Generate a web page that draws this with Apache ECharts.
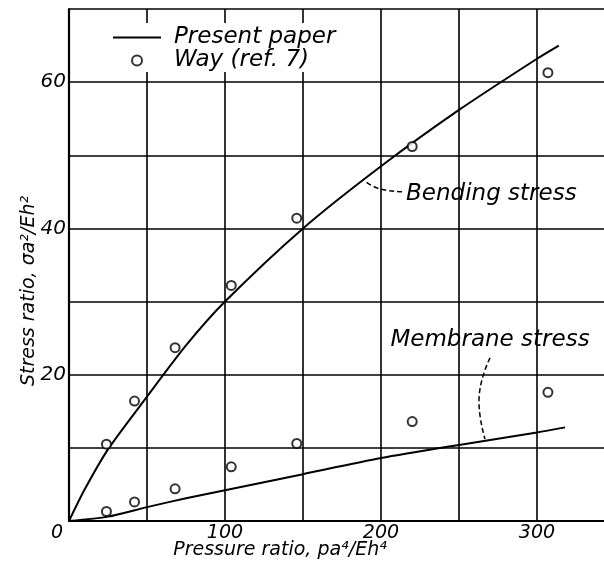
<!DOCTYPE html>
<html lang="en">
<head>
<meta charset="UTF-8">
<title>Stress ratio vs pressure ratio</title>
<script src="https://cdn.jsdelivr.net/npm/echarts@6/dist/echarts.min.js"></script>
<style>
html,body{margin:0;padding:0;background:#fff;}
#chartBox{width:604px;height:566px;}
</style>
</head>
<body>
<div id="chartBox"></div>
<script>
// test points, Way (ref. 7)
const pressure = [24, 42, 68, 104, 146, 220, 307];
const wayBending = [10.5, 16.4, 23.7, 32.2, 41.4, 51.2, 61.3];
const wayMembrane = [1.3, 2.6, 4.4, 7.4, 10.6, 13.6, 17.6];

// present paper curves
const bendingX = [0, 10, 25, 50, 75, 100, 150, 200, 250, 300, 314];
const bendingY = [0, 4.3, 9.8, 17, 24, 30, 40, 48.5, 56.2, 63.2, 65];
const membraneX = [0, 25, 50, 75, 100, 150, 200, 250, 300, 318];
const membraneY = [0, 0.6, 1.9, 3.1, 4.2, 6.4, 8.6, 10.4, 12.1, 12.8];

// dashed leaders for the curve labels
const bendLeaderX = [213.5, 198, 189];
const bendLeaderY = [45.0, 45.5, 46.6];
const membLeaderX = [269.9, 262.8, 266.7];
const membLeaderY = [22.3, 16.4, 11.2];

const FONT = '"DejaVu Sans", sans-serif';

function pairs(xs, ys) {
    return xs.map((x, i) => [x, ys[i]]);
}

function leader(xs, ys, text, pos, dist, off) {
    let data = pairs(xs, ys);
    data[0] = {
        value: data[0],
        label: {
            show: true, formatter: text, position: pos, distance: dist, offset: off,
            fontFamily: FONT, fontStyle: 'italic', fontSize: 23, color: '#000'
        }
    };
    return {
        type: 'line',
        smooth: true,
        symbol: 'circle',
        symbolSize: 0,
        showSymbol: true,
        silent: true,
        z: 3,
        itemStyle: {color: 'rgba(0,0,0,0)'},
        lineStyle: {color: '#000', width: 1.5, type: [5, 3]},
        data: data
    };
}

let chartObj = echarts.init(document.getElementById('chartBox'));

let curveStyle = {color: '#000', width: 2};
let dotStyle = {color: '#fff', borderColor: '#000', borderWidth: 2};

let option = {
    animation: false,
    backgroundColor: '#fff',
    // the frame runs past the right edge of the picture (x = 350)
    grid: {left: 69, top: 9, bottom: 45, width: 546, outerBoundsMode: 'none'},
    legend: {
        left: 100,
        top: 23,
        orient: 'vertical',
        backgroundColor: '#fff',
        padding: [3, 12, 0, 12],
        itemWidth: 48,
        itemHeight: 10,
        itemGap: 0,
        textStyle: {
            fontFamily: FONT, fontStyle: 'italic', fontSize: 23,
            color: '#000', lineHeight: 23, padding: [0, 0, 0, 8]
        },
        data: [
            {name: 'Present paper', itemStyle: {color: 'rgba(0,0,0,0)', borderWidth: 0}},
            {name: 'Way (ref. 7)'}
        ]
    },
    xAxis: {
        type: 'value',
        min: 0,
        max: 350,
        interval: 50,
        name: 'Pressure ratio, pa⁴/Eh⁴',
        nameLocation: 'middle',
        nameGap: 20,
        nameMoveOverlap: false,
        nameTextStyle: {
            fontFamily: FONT, fontStyle: 'italic', fontSize: 19,
            color: '#000', padding: [0, 124, 0, 0]
        },
        axisLine: {show: true, lineStyle: {color: '#000', width: 2.2}},
        axisTick: {show: false},
        splitLine: {show: true, lineStyle: {color: '#000', width: 1.6}},
        axisLabel: {
            margin: 3,
            fontFamily: FONT, fontStyle: 'italic', fontSize: 19, color: '#000',
            formatter: function (v) {
                if (v === 0) return '{z|0}';
                return v % 100 === 0 ? String(v) : '';
            },
            rich: {z: {padding: [0, 24, 0, 0], fontFamily: FONT, fontStyle: 'italic', fontSize: 19, color: '#000'}}
        }
    },
    yAxis: {
        type: 'value',
        min: 0,
        max: 70,
        interval: 10,
        name: 'Stress ratio, σa²/Eh²',
        nameLocation: 'middle',
        nameGap: 30,
        nameMoveOverlap: false,
        nameTextStyle: {
            fontFamily: FONT, fontStyle: 'italic', fontSize: 19,
            color: '#000', padding: [0, 52, 0, 0]
        },
        axisLine: {show: true, lineStyle: {color: '#000', width: 2.2}},
        axisTick: {show: false},
        splitLine: {show: true, lineStyle: {color: '#000', width: 1.6}},
        axisLabel: {
            margin: 3,
            fontFamily: FONT, fontStyle: 'italic', fontSize: 20, color: '#000',
            formatter: function (v) {
                return (v > 0 && v % 20 === 0) ? String(v) : '';
            }
        }
    },
    series: [
        {
            type: 'line', name: 'Present paper', smooth: 0.25,
            symbol: 'none', z: 4, lineStyle: curveStyle, itemStyle: {color: '#000'},
            data: pairs(bendingX, bendingY)
        },
        {
            type: 'line', name: 'Present paper', smooth: 0.25,
            symbol: 'none', z: 4, lineStyle: curveStyle, itemStyle: {color: '#000'},
            data: pairs(membraneX, membraneY)
        },
        {
            type: 'scatter', name: 'Way (ref. 7)', symbol: 'circle', symbolSize: 9,
            z: 5, itemStyle: dotStyle, data: pairs(pressure, wayBending)
        },
        {
            type: 'scatter', name: 'Way (ref. 7)', symbol: 'circle', symbolSize: 9,
            z: 5, itemStyle: dotStyle, data: pairs(pressure, wayMembrane)
        },
        leader(bendLeaderX, bendLeaderY, 'Bending stress', 'right', 4, [0, 2]),
        leader(membLeaderX, membLeaderY, 'Membrane stress', 'top', 6, [0, 0])
    ]
};

chartObj.setOption(option);
</script>
</body>
</html>
